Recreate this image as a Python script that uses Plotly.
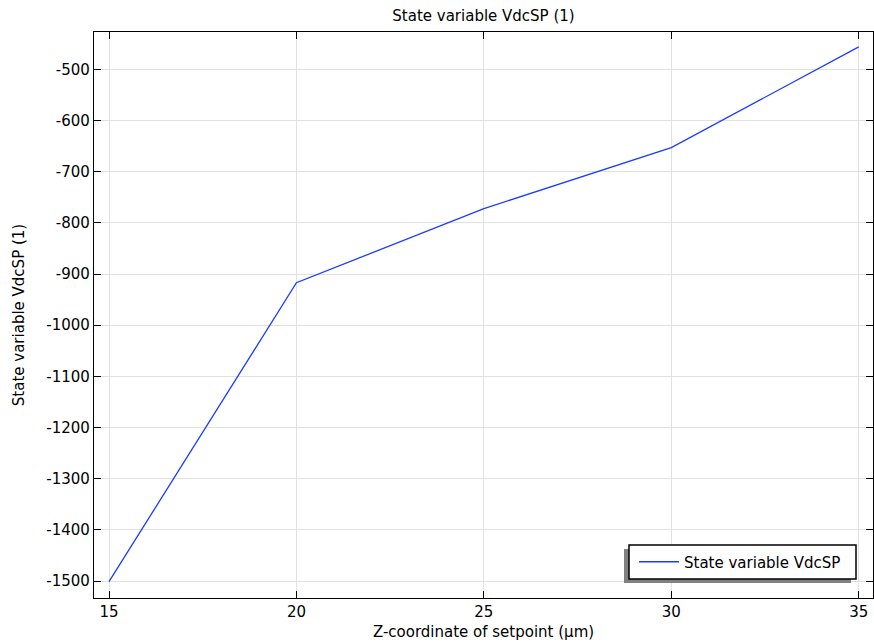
import plotly.graph_objects as go

x_vals = [15, 20, 25, 30, 35]
y_vals = [-1501, -917, -772, -653, -456]
x_ticks = [15, 20, 25, 30, 35]
y_ticks = [-1500, -1400, -1300, -1200, -1100, -1000, -900, -800, -700, -600, -500]
y_ticktext = [str(v) for v in y_ticks]

FONT = "DejaVu Sans"
FS = 15
W, H = 874, 644
ML, MR, MT, MB = 94, 1, 32, 46
pw = W - ML - MR
ph = H - MT - MB

fig = go.Figure()
fig.add_trace(go.Scatter(x=x_vals, y=y_vals, mode="lines", name="State variable VdcSP",
                         line=dict(color="#1a3cff", width=1.3)))

axis_common = dict(showline=True, mirror="ticks", linecolor="black", linewidth=1.3,
                   ticks="inside", ticklen=7, tickcolor="black", tickwidth=1.3,
                   showgrid=True, gridcolor="#e1e1e1", gridwidth=1, zeroline=False,
                   tickfont=dict(family=FONT, size=FS, color="black"))

fig.update_xaxes(range=[14.6, 35.38], tickvals=x_ticks,
                 title=dict(text="Z-coordinate of setpoint (µm)", font=dict(family=FONT, size=FS, color="black"), standoff=6),
                 **axis_common)
fig.update_yaxes(range=[-1533, -427], tickvals=y_ticks, ticktext=y_ticktext,
                 title=dict(text="State variable VdcSP (1)", font=dict(family=FONT, size=FS, color="black"), standoff=18),
                 **axis_common)

def px2x(p):
    return (p - ML) / pw
def py2y(p):
    return (H - MB - p) / ph

# legend box + shadow
lx0, lx1, ly0, ly1 = 629, 856, 545, 579
fig.add_shape(type="rect", xref="paper", yref="paper",
              x0=px2x(lx0 - 5), x1=px2x(lx1 - 5), y0=py2y(ly1 + 4), y1=py2y(ly0 + 4),
              fillcolor="#808080", line=dict(width=0), layer="above")
fig.add_shape(type="rect", xref="paper", yref="paper",
              x0=px2x(lx0), x1=px2x(lx1), y0=py2y(ly1), y1=py2y(ly0),
              fillcolor="white", line=dict(color="black", width=1.5), layer="above")

fig.update_layout(
    width=W, height=H,
    margin=dict(l=ML, r=MR, t=MT, b=MB),
    paper_bgcolor="white", plot_bgcolor="white",
    font=dict(family=FONT, size=FS, color="black"),
    title=dict(text="State variable VdcSP (1)", x=(ML + pw / 2) / W, xanchor="center",
               y=1 - 16 / H, yanchor="middle", font=dict(family=FONT, size=FS, color="black")),
    showlegend=True,
    legend=dict(x=px2x(lx0 + 5), y=py2y((ly0 + ly1) / 2), xanchor="left", yanchor="middle",
                bgcolor="rgba(0,0,0,0)", borderwidth=0,
                font=dict(family=FONT, size=FS, color="black"),
                itemwidth=40, tracegroupgap=0),
)

fig.write_html("out.html")
